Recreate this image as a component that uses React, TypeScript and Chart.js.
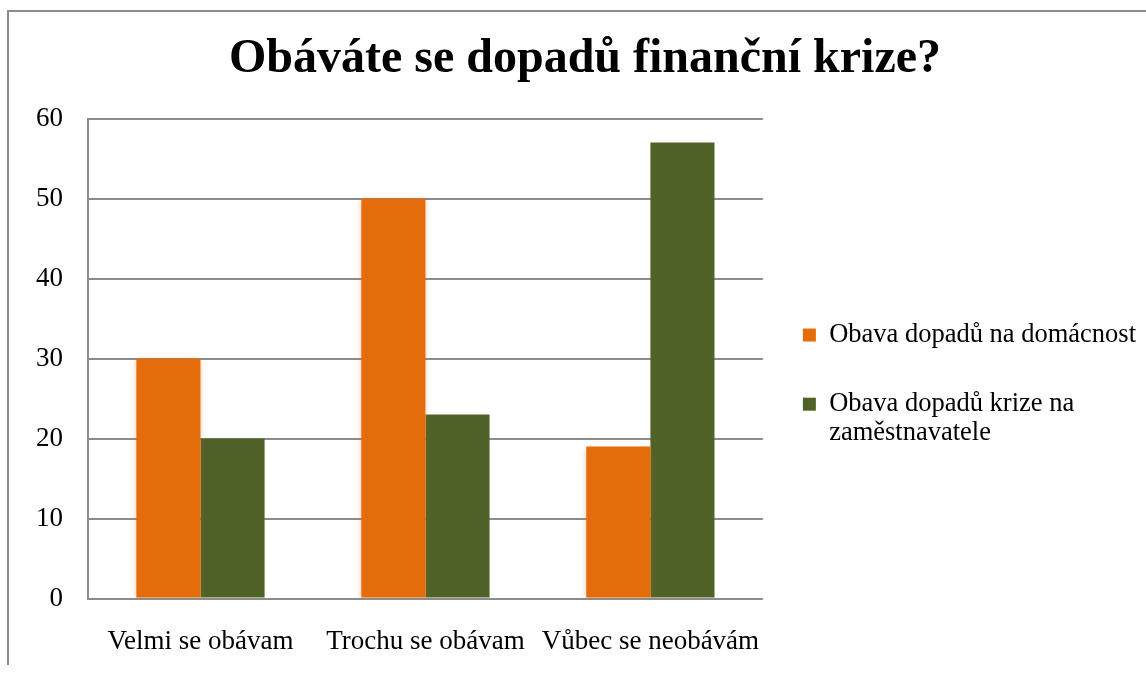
import React, { useEffect, useRef } from "react";
import { Chart, registerables } from "chart.js";

Chart.register(...registerables);

const categories = ["Velmi se obávam", "Trochu se obávam", "Vůbec se neobávám"];
const householdValues = [30, 50, 19];
const employerValues = [20, 23, 57];
const seriesLabels: (string | string[])[] = [
  ["Obava dopadů na domácnost"],
  ["Obava dopadů krize na", "zaměstnavatele"],
];
const titleText = "Obáváte se dopadů finanční krize?";
const yMin = 0;
const yMax = 60;
const yStep = 10;

const ORANGE = "#E46C0A";
const GREEN = "#4F6228";
const GRID = "#8c8c8c";
const FONT = "'Liberation Serif', 'Times New Roman', serif";

const shadowPlugin = {
  id: "barShadow",
  beforeDatasetDraw(chart: any, args: any) {
    if (args.index === 0) {
      const ctx = chart.ctx;
      ctx.save();
      ctx.shadowColor = "rgba(228,108,10,0.35)";
      ctx.shadowBlur = 6;
      ctx.shadowOffsetX = 0;
      ctx.shadowOffsetY = 2;
    }
  },
  afterDatasetDraw(chart: any, args: any) {
    if (args.index === 0) chart.ctx.restore();
  },
};

export default function App() {
  const ref = useRef<HTMLCanvasElement | null>(null);

  useEffect(() => {
    if (!ref.current) return;
    const chart = new Chart(ref.current, {
      type: "bar",
      data: {
        labels: categories,
        datasets: [
          {
            label: seriesLabels[0] as any,
            data: householdValues,
            backgroundColor: ORANGE,
            borderWidth: 0,
            categoryPercentage: 0.57,
            barPercentage: 1.0,
          },
          {
            label: seriesLabels[1] as any,
            data: employerValues,
            backgroundColor: GREEN,
            borderWidth: 0,
            categoryPercentage: 0.57,
            barPercentage: 1.0,
          },
        ],
      },
      options: {
        responsive: false,
        animation: false,
        layout: { padding: { left: 24, right: 0, top: 0, bottom: -10 } },
        plugins: {
          title: {
            display: true,
            text: titleText,
            color: "#000",
            font: { family: FONT, size: 48, weight: "bold", lineHeight: 1.2 },
            padding: { top: 31, bottom: 30 },
          },
          legend: {
            position: "right",
            maxWidth: 420,
            title: { display: true, text: " ", font: { size: 10 }, padding: { top: 74, bottom: 0 } },
            labels: {
              boxWidth: 13,
              boxHeight: 13,
              padding: 40,
              color: "#000",
              font: { family: FONT, size: 26.5, lineHeight: 1.1 },
            },
          },
          tooltip: { enabled: false },
        },
        scales: {
          x: {
            grid: { display: false, drawTicks: false },
            border: { display: false },
            ticks: {
              color: "#000",
              padding: 27,
              maxRotation: 0,
              font: { family: FONT, size: 27 },
            },
          },
          y: {
            min: yMin,
            max: yMax,
            afterFit(scale: any) {
              scale.width = 64;
            },
            grid: { color: GRID, lineWidth: 2, drawTicks: false },
            border: { display: true, color: GRID, width: 2 },
            ticks: {
              stepSize: yStep,
              color: "#000",
              padding: 25,
              font: { family: FONT, size: 27 },
            },
          },
        },
      },
      plugins: [shadowPlugin],
    });
    return () => chart.destroy();
  }, []);

  return (
    <div>
      <div
        style={{
          position: "fixed",
          left: 7,
          top: 10,
          width: 1300,
          height: 655,
          borderLeft: "2px solid #8c8c8c",
          borderTop: "2px solid #8c8c8c",
          boxSizing: "border-box",
        }}
      />
      <canvas
        ref={ref}
        width={1146}
        height={675}
        style={{ position: "fixed", left: 0, top: 0, width: 1146, height: 675 }}
      />
    </div>
  );
}
